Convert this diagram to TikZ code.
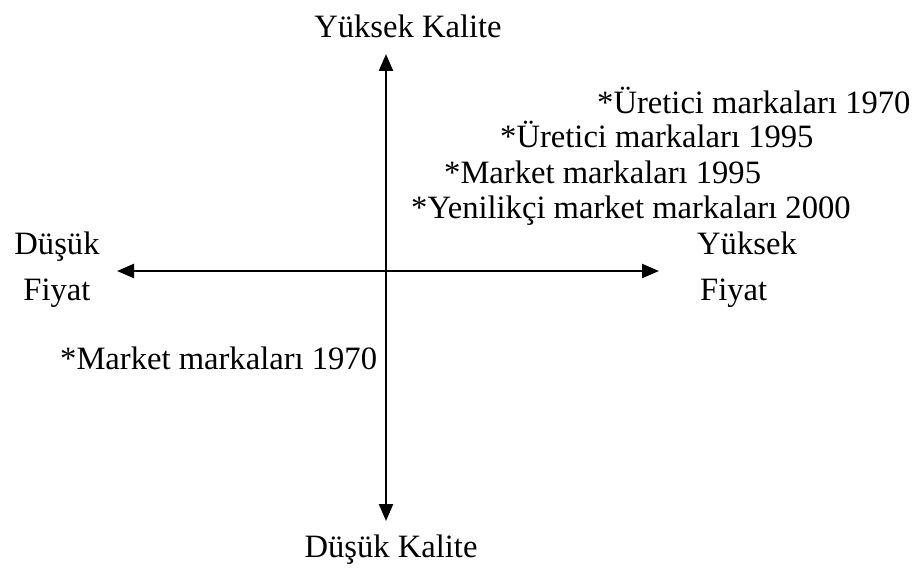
\documentclass[tikz,border=0pt]{standalone}
\usepackage{fontspec}
\setmainfont{Liberation Serif}
\usepackage{tikz}
\usetikzlibrary{arrows.meta,positioning}

\tikzset{
  axis/.style={line width=2.4pt,{Triangle[length=17pt,width=14pt]}-{Triangle[length=17pt,width=14pt]}},
  lbl/.style={inner sep=0pt,font=\fontsize{32.6}{40}\selectfont},
}

\begin{document}
\begin{tikzpicture}[x=1pt,y=1pt]
  \useasboundingbox (0,0) rectangle (915,-569);
  % axes
  \coordinate (top) at (386,-54);
  \coordinate (bot) at (386,-521);
  \coordinate (lft) at (117,-271);
  \coordinate (rgt) at (659,-271);
  \draw[axis] (bot) -- (top);
  \draw[axis] (lft) -- (rgt);
  % axis labels
  \node[lbl] (hq) at (408,-26) {Yüksek Kalite};
  \node[lbl] (lq) at (391,-550) {Düşük Kalite};
  \node[lbl,align=center] (lp) at (57,-270) {Düşük\\[6pt]Fiyat};
  \node[lbl,align=left,anchor=west] (hp) at (697,-270) {Yüksek\\[6pt]\hspace*{3pt}Fiyat};
  % brands
  \node[lbl,anchor=west] (u70) at (597,-100) {*Üretici markaları 1970};
  \node[lbl,anchor=west] (u95) at (500,-134) {*Üretici markaları 1995};
  \node[lbl,anchor=west] (m95) at (444,-172) {*Market markaları 1995};
  \node[lbl,anchor=west] (y00) at (411,-211) {*Yenilikçi market markaları 2000};
  \node[lbl,anchor=west] (m70) at (60,-358) {*Market markaları 1970};
\end{tikzpicture}
\end{document}
